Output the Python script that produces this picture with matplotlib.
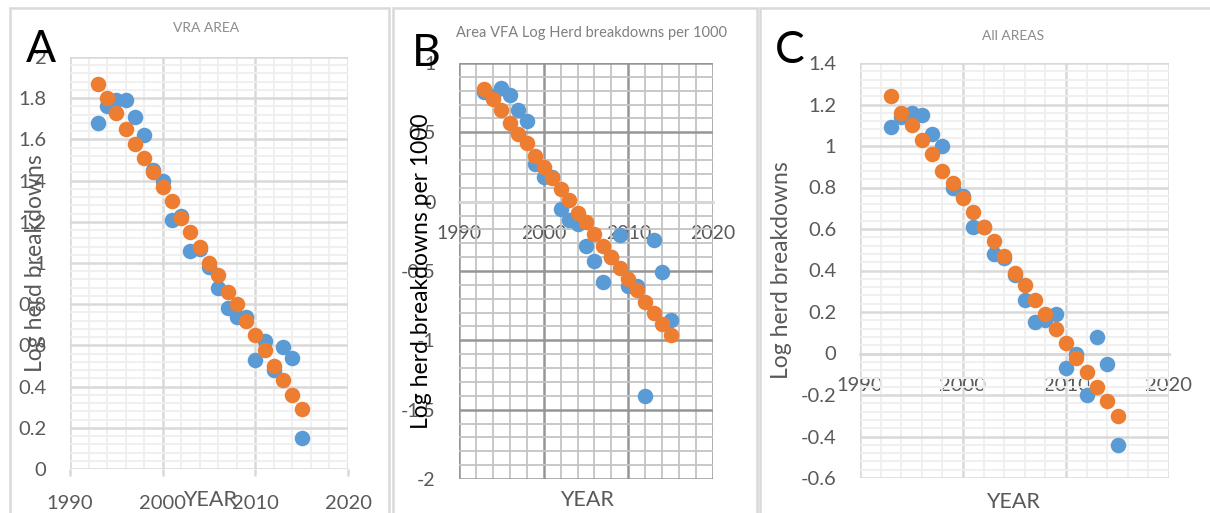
import matplotlib
matplotlib.use("Agg")
import matplotlib.pyplot as plt
from matplotlib.patches import Rectangle
from matplotlib.ticker import MultipleLocator, FuncFormatter

# data (log herd breakdowns), 1993-2015
years = list(range(1993, 2016))

vra_obs = [1.68, 1.76, 1.79, 1.79, 1.71, 1.62, 1.45, 1.40, 1.21, 1.23, 1.06, 1.07,
           0.98, 0.88, 0.78, 0.74, 0.74, 0.53, 0.62, 0.48, 0.59, 0.54, 0.15]
vra_fit = [1.87, 1.80, 1.73, 1.65, 1.58, 1.51, 1.44, 1.37, 1.30, 1.22, 1.15, 1.08,
           1.00, 0.94, 0.86, 0.80, 0.72, 0.65, 0.58, 0.50, 0.43, 0.36, 0.29]

vfa_obs = [0.79, 0.76, 0.82, 0.77, 0.66, 0.58, 0.27, 0.18, 0.18, -0.05, -0.13, -0.16,
           -0.32, -0.43, -0.58, -0.40, -0.24, -0.61, -0.61, -1.40, -0.28, -0.51, -0.85]
vfa_fit = [0.81, 0.74, 0.66, 0.57, 0.49, 0.42, 0.33, 0.25, 0.17, 0.09, 0.01, -0.08,
           -0.15, -0.23, -0.32, -0.40, -0.48, -0.56, -0.64, -0.72, -0.80, -0.88, -0.96]

all_obs = [1.09, 1.14, 1.16, 1.15, 1.06, 1.00, 0.80, 0.76, 0.61, 0.61, 0.48, 0.46,
           0.38, 0.26, 0.15, 0.16, 0.19, -0.07, 0.00, -0.20, 0.08, -0.05, -0.44]
all_fit = [1.24, 1.16, 1.10, 1.03, 0.96, 0.88, 0.82, 0.75, 0.68, 0.61, 0.54, 0.47,
           0.39, 0.33, 0.26, 0.19, 0.12, 0.05, -0.02, -0.09, -0.16, -0.23, -0.30]

W, H = 1210, 513
BLUE = '#5b9bd5'
ORANGE = '#ed7d31'
TXT = '#595959'

plt.rcParams['font.family'] = ['Lato', 'DejaVu Sans']

fig = plt.figure(figsize=(W / 100, H / 100), dpi=100)


def px_axes(left, top, right, bottom):
    return fig.add_axes([left / W, 1 - bottom / H, (right - left) / W, (bottom - top) / H])


def panel_box(left, right):
    fig.add_artist(Rectangle((left / W, -0.05), (right - left) / W, 1.05 - 8 / H,
                             transform=fig.transFigure, fill=False,
                             ec='#d9d9d9', lw=1.8))


def excel_fmt(v, pos):
    if abs(v) < 1e-9:
        return '0'
    return f'{round(v, 2):g}'


def setup(ax, ylim, ymaj, ymin, major_c, minor_c, tick_fs, cross_zero):
    ax.set_xlim(1990, 2020)
    ax.set_ylim(*ylim)
    ax.xaxis.set_major_locator(MultipleLocator(10))
    ax.xaxis.set_minor_locator(MultipleLocator(2))
    ax.yaxis.set_major_locator(MultipleLocator(ymaj))
    ax.yaxis.set_minor_locator(MultipleLocator(ymin))
    ax.yaxis.set_major_formatter(FuncFormatter(excel_fmt))
    ax.grid(which='minor', color=minor_c, lw=1.3)
    ax.grid(which='major', color=major_c, lw=1.8)
    ax.set_axisbelow(True)
    for s in ax.spines.values():
        s.set_visible(False)
    ax.tick_params(which='minor', length=0)
    ax.tick_params(axis='y', which='major', length=0, pad=17, labelsize=tick_fs, labelcolor=TXT)
    if cross_zero:
        ax.spines['bottom'].set_visible(True)
        ax.spines['bottom'].set_position(('data', 0))
        ax.spines['bottom'].set_color('#d9d9d9')
        ax.spines['bottom'].set_linewidth(2)
        ax.tick_params(axis='x', which='major', length=0, pad=17,
                       labelsize=tick_fs, labelcolor=TXT)
    else:
        ax.tick_params(axis='x', which='major', length=5, width=1.8, color='#d9d9d9',
                       pad=14, labelsize=tick_fs, labelcolor=TXT)


def dots(ax, obs, fit):
    ax.scatter(years, obs, s=125, color=BLUE, linewidths=0, zorder=3, clip_on=False)
    ax.scatter(years, fit, s=125, color=ORANGE, linewidths=0, zorder=4, clip_on=False)


panel_box(10, 389)
panel_box(393, 757)
panel_box(760, 1215)

# A
axA = px_axes(70, 57, 348, 469)
setup(axA, (0, 2), 0.2, 0.04, '#d9d9d9', '#efefef', 14.5, False)
dots(axA, vra_obs, vra_fit)
axA.set_ylabel('Log herd breakdowns', fontsize=16.5, color=TXT, va='center')
axA.yaxis.set_label_coords((35 - 70) / 278, 0.5)
axA.set_xlabel('YEAR', fontsize=15.5, color=TXT, va='center')
axA.xaxis.set_label_coords((210 - 70) / 278, (469 - 500) / 412)
fig.text(206 / W, 1 - 28 / H, 'VRA AREA', fontsize=10, color='#8c8c8c',
         ha='center', va='center')
fig.text(41 / W, 1 - 49 / H, 'A', fontsize=32, color='black', ha='center', va='center')

# B
axB = px_axes(459, 63, 713, 479)
setup(axB, (-2, 1), 0.5, 0.1, '#969696', '#c4c4c4', 14, True)
dots(axB, vfa_obs, vfa_fit)
axB.set_ylabel('Log herd breakdowns per 1000', fontsize=16.5, color='black', va='center')
axB.yaxis.set_label_coords((421 - 459) / 254, 0.5)
axB.set_xlabel('YEAR', fontsize=15.5, color=TXT, va='center')
axB.xaxis.set_label_coords((587 - 459) / 254, (479 - 500) / 416)
fig.text(592 / W, 1 - 33 / H, 'Area VFA Log Herd breakdowns per 1000', fontsize=10.5,
         color='#7f7f7f', ha='center', va='center')
fig.text(426 / W, 1 - 53 / H, 'B', fontsize=32, color='black', ha='center', va='center')

# C
axC = px_axes(860, 63, 1169, 478)
setup(axC, (-0.6, 1.4), 0.2, 0.04, '#d9d9d9', '#efefef', 14.5, True)
dots(axC, all_obs, all_fit)
axC.set_ylabel('Log herd breakdowns', fontsize=16.5, color=TXT, va='center')
axC.yaxis.set_label_coords((781 - 860) / 309, 0.5)
axC.set_xlabel('YEAR', fontsize=15.5, color=TXT, va='center')
axC.xaxis.set_label_coords((1013 - 860) / 309, (478 - 502) / 415)
fig.text(1013 / W, 1 - 36 / H, 'All AREAS', fontsize=10, color='#8c8c8c',
         ha='center', va='center')
fig.text(790 / W, 1 - 51 / H, 'C', fontsize=32, color='black', ha='center', va='center')

fig.savefig('out.png', dpi=100)
